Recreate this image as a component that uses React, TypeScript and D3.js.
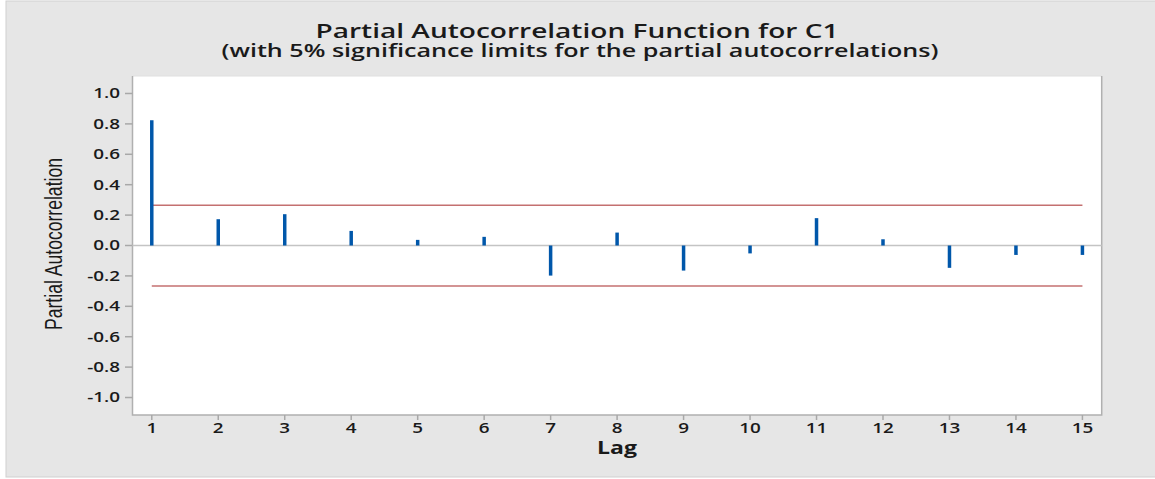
import React from "react";
import * as d3 from "d3";

const lags = [1, 2, 3, 4, 5, 6, 7, 8, 9, 10, 11, 12, 13, 14, 15];
const pacf = [0.824, 0.173, 0.206, 0.096, 0.037, 0.057, -0.198, 0.085, -0.165, -0.052, 0.18, 0.041, -0.147, -0.062, -0.062];
const sigLimits = [0.264, -0.266];
const yTicks = [1.0, 0.8, 0.6, 0.4, 0.2, 0.0, -0.2, -0.4, -0.6, -0.8, -1.0];
const titleText = "Partial Autocorrelation Function for C1";
const subtitleText = "(with 5% significance limits for the partial autocorrelations)";
const xLabel = "Lag";
const yLabel = "Partial Autocorrelation";

const W = 1155;
const H = 479;
const plot = { left: 132.5, right: 1101.7, top: 76, bottom: 415 };
const font = "'Open Sans', 'Noto Sans', sans-serif";
const SX = 1.4;

export default function App() {
  const x = d3.scaleLinear().domain([0.71, 15.29]).range([plot.left, plot.right]);
  const y = d3.scaleLinear().domain([-1.115, 1.115]).range([plot.bottom, plot.top]);
  const fmt = d3.format(".1f");

  return (
    <svg width={W} height={H} style={{ position: "absolute", left: 0, top: 0 }} xmlns="http://www.w3.org/2000/svg">
      <rect x={0} y={0} width={W} height={H} fill="#ffffff" />
      <rect x={6} y={1} width={W - 5} height={476} fill="#e6e6e6" stroke="#d0d0d0" strokeWidth={1} />

      {/* plot area */}
      <rect x={plot.left} y={plot.top} width={plot.right - plot.left} height={plot.bottom - plot.top} fill="#ffffff" />
      <line x1={plot.left} x2={plot.right} y1={plot.top} y2={plot.top} stroke="#e0e0e0" strokeWidth={1} />
      <path
        d={`M${plot.left},${plot.top}V${plot.bottom}H${plot.right}V${plot.top}`}
        fill="none"
        stroke="#b0b0b0"
        strokeWidth={1.5}
      />

      {/* title */}
      <text x={577} y={38} textAnchor="middle" fontFamily={font} fontWeight={600} fontSize={19} fill="#1a1a1a" textLength={523} lengthAdjust="spacingAndGlyphs">
        {titleText}
      </text>
      <text x={580} y={56.5} textAnchor="middle" fontFamily={font} fontWeight={600} fontSize={17.5} fill="#1a1a1a" textLength={717} lengthAdjust="spacingAndGlyphs">
        {subtitleText}
      </text>

      {/* y axis */}
      {yTicks.map((t) => (
        <g key={t}>
          <line x1={125} x2={plot.left} y1={y(t)} y2={y(t)} stroke="#a8a8a8" strokeWidth={1.5} />
          <text
            transform={`translate(120,${y(t)}) scale(${SX},1)`}
            dy="0.36em"
            textAnchor="end"
            fontFamily={font}
            fontWeight={600}
            fontSize={13.5}
            fill="#1a1a1a"
          >
            {fmt(t).replace("−", "-")}
          </text>
        </g>
      ))}
      <text
        transform={`translate(62,244) rotate(-90)`}
        textAnchor="middle"
        fontFamily="'Liberation Sans', Arial, sans-serif"
        fontSize={23}
        fill="#1a1a1a"
        textLength={172}
        lengthAdjust="spacingAndGlyphs"
      >
        {yLabel}
      </text>

      {/* x axis */}
      {lags.map((l) => (
        <g key={l}>
          <line x1={x(l)} x2={x(l)} y1={plot.bottom} y2={plot.bottom + 5} stroke="#a8a8a8" strokeWidth={1.5} />
          <text
            transform={`translate(${x(l)},432.5) scale(${SX},1)`}
            textAnchor="middle"
            fontFamily={font}
            fontWeight={600}
            fontSize={13.5}
            fill="#1a1a1a"
          >
            {l}
          </text>
        </g>
      ))}
      <text x={617} y={454} textAnchor="middle" fontFamily={font} fontWeight={700} fontSize={17} fill="#1a1a1a" textLength={40} lengthAdjust="spacingAndGlyphs">
        {xLabel}
      </text>

      {/* zero line */}
      <line x1={plot.left} x2={plot.right} y1={y(0)} y2={y(0)} stroke="#c4c4c4" strokeWidth={1.5} />

      {/* significance limits */}
      {sigLimits.map((s, i) => (
        <line key={i} x1={x(lags[0])} x2={x(lags[lags.length - 1])} y1={y(s)} y2={y(s)} stroke="#c47070" strokeWidth={1.5} />
      ))}

      {/* bars */}
      {pacf.map((v, i) => (
        <line key={i} x1={x(lags[i])} x2={x(lags[i])} y1={y(0)} y2={y(v)} stroke="#0057aa" strokeWidth={3.5} />
      ))}
    </svg>
  );
}
